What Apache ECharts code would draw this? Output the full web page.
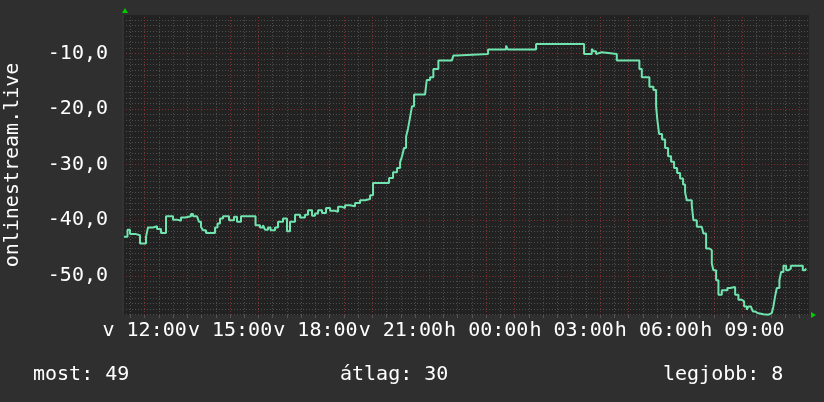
<!DOCTYPE html>
<html>
<head>
<meta charset="utf-8">
<script src="https://cdn.jsdelivr.net/npm/echarts@6/dist/echarts.min.js"></script>
<style>
  html, body { margin: 0; padding: 0; background: #2f2f2f; }
  #chart { width: 824px; height: 402px; }
</style>
</head>
<body>
<div id="chart"></div>
<script>
// hours since Sunday 00:00 (24+ = Monday)
const times = [
  11.275, 11.398, 11.486, 11.697, 11.837, 12.048, 12.118, 12.294, 12.435, 12.575,
  12.751, 12.997, 13.137, 13.277, 13.418, 13.629, 13.700, 13.840, 13.910, 13.981,
  14.051, 14.156, 14.473, 14.560, 14.648, 14.754, 14.965, 15.140, 15.246, 15.386,
  15.896, 16.054, 16.159, 16.229, 16.335, 16.423, 16.581, 16.686, 16.862, 17.002,
  17.108, 17.284, 17.460, 17.635, 17.740, 17.881, 17.986, 18.092, 18.232, 18.373,
  18.514, 18.689, 18.795, 18.935, 19.040, 19.216, 19.392, 19.568, 19.743, 19.919,
  20.024, 20.587, 20.727, 20.868, 20.973, 21.043, 21.113, 21.184, 21.254, 21.324,
  21.394, 21.465, 21.851, 21.911, 22.027, 22.143, 22.319, 22.790, 22.846, 22.965,
  24.065, 24.698, 24.757, 25.751, 27.438, 27.709, 27.765, 27.860, 27.906, 28.060,
  28.587, 29.381, 29.466, 29.733, 29.873, 29.968, 30.013, 30.073, 30.178, 30.284,
  30.389, 30.495, 30.600, 30.706, 30.811, 30.916, 30.987, 31.046, 31.222, 31.278,
  31.398, 31.574, 31.630, 31.725, 31.841, 31.925, 31.982, 32.077, 32.158, 32.277,
  32.474, 32.569, 32.745, 32.860, 32.980, 33.061, 33.155, 33.212, 33.296, 33.366,
  33.447, 33.528, 33.598, 33.738, 33.914, 34.033, 34.090, 34.149, 34.209, 34.300,
  34.360, 34.442, 34.536, 34.617, 34.701, 35.123, 35.204, 35.239
];
const values = [
  -43.0, -41.7, -42.5, -42.7, -44.2, -43.0, -41.3, -41.1, -41.6, -42.3,
  -39.3, -39.9, -40.1, -39.5, -39.3, -38.9, -39.3, -39.5, -40.3, -41.2,
  -41.8, -42.3, -41.3, -40.6, -39.7, -39.3, -40.0, -39.4, -40.3, -39.3,
  -40.9, -41.3, -40.9, -41.7, -41.3, -41.8, -41.3, -40.3, -39.7, -42.0,
  -40.3, -39.0, -39.5, -39.0, -38.2, -39.2, -38.8, -38.2, -38.7, -37.8,
  -38.3, -38.5, -37.6, -37.8, -37.3, -37.5, -36.9, -36.4, -36.2, -35.5,
  -33.3, -32.4, -31.4, -30.6, -29.6, -28.5, -27.0, -25.0, -23.5, -21.5,
  -19.5, -17.4, -17.1, -14.8, -14.3, -12.8, -11.3, -11.1, -10.4, -10.1,
  -9.3, -8.6, -9.3, -8.3, -10.1, -9.2, -9.6, -10.1, -9.8, -10.1,
  -11.3, -12.8, -14.3, -16.0, -16.6, -19.5, -22.0, -24.5, -25.5, -27.0,
  -28.5, -29.5, -30.6, -31.5, -32.5, -33.6, -35.0, -36.4, -37.3, -40.0,
  -41.2, -41.5, -42.4, -45.1, -45.4, -47.8, -49.0, -50.8, -53.4, -52.6,
  -52.2, -52.0, -53.4, -54.3, -54.6, -55.5, -56.1, -55.5, -55.8, -56.4,
  -56.7, -56.4, -56.9, -57.0, -56.7, -56.4, -55.5, -53.7, -52.2, -50.8,
  -49.3, -48.2, -49.0, -48.7, -48.2, -49.0, -48.7, -48.7
];
const labelHours = [12, 15, 18, 21, 24, 27, 30, 33];
const yLabels = [-50, -40, -30, -20, -10];
const summary = ['most: 49', 'átlag: 30', 'legjobb: 8'];
const yName = 'onlinestream.live';

const xMin = 11.24, xMax = 35.34;
const yMin = -57.05, yMax = -3.1;

const GRAY = '#4d4d4d';
const RED = '#7e2f2f';
const DOT = [1, 2];
const FONT = 'DejaVu Sans Mono';

// grid line positions: every half hour, every 1 unit
const halfHours = [];
for (let h = Math.ceil(xMin * 2) / 2; h <= xMax; h += 0.5) halfHours.push(h);
const minorY = [];
for (let v = Math.ceil(yMin); v <= yMax; v += 1) minorY.push(v);

function pad(n) { return (n < 10 ? '0' : '') + n; }

const chart = echarts.init(document.getElementById('chart'));
chart.setOption({
  backgroundColor: '#2f2f2f',
  animation: false,
  grid: {
    left: 123, right: 15, top: 15, bottom: 87,
    containLabel: false, outerBoundsMode: 'none',
    show: true, backgroundColor: '#222222', borderWidth: 0
  },
  xAxis: {
    type: 'value', min: xMin, max: xMax,
    axisLine: { show: false },
    axisTick: { show: true, customValues: halfHours, length: 3, lineStyle: { color: '#555' } },
    axisLabel: {
      customValues: labelHours,
      color: '#ffffff', fontFamily: FONT, fontSize: 20, margin: 6,
      formatter: h => (h < 24 ? 'v ' : 'h ') + pad(h % 24) + ':00'
    },
    splitLine: { show: false }
  },
  yAxis: {
    type: 'value', min: yMin, max: yMax,
    name: yName, nameLocation: 'middle', nameRotate: 90, nameGap: 100,
    nameTextStyle: { color: '#ffffff', fontFamily: FONT, fontSize: 20 },
    axisLine: { show: true, lineStyle: { color: '#333333', width: 2 } },
    axisTick: { show: false, customValues: minorY },
    axisLabel: {
      customValues: yLabels,
      color: '#ffffff', fontFamily: FONT, fontSize: 20, margin: 15,
      formatter: v => v.toFixed(1).replace('.', ',')
    },
    splitLine: {
      show: true,
      lineStyle: { type: DOT, width: 1, color: minorY.map(v => v % 10 === 0 ? RED : GRAY) }
    }
  },
  series: [{
    // vertical grid lines
    type: 'line',
    data: [],
    z: 1,
    markLine: {
      silent: true,
      symbol: 'none',
      label: { show: false },
      animation: false,
      data: halfHours.map(h => ({
        xAxis: h,
        lineStyle: { type: DOT, width: 1, color: h % 1 === 0 ? RED : GRAY }
      }))
    }
  }, {
    type: 'line',
    step: 'end',
    showSymbol: false,
    clip: false,
    z: 5,
    data: times.map((t, i) => [t, values[i]]),
    lineStyle: { color: '#6fe4ae', width: 2 }
  }],
  graphic: [
    { type: 'polygon', shape: { points: [[122, 13], [128, 13], [125, 8]] }, style: { fill: '#00cc00' } },
    { type: 'polygon', shape: { points: [[811, 312], [811, 318], [816, 315]] }, style: { fill: '#00cc00' } },
    { type: 'text', left: 33, top: 365, style: { text: summary[0], fill: '#fff', font: '20px "DejaVu Sans Mono"' } },
    { type: 'text', left: 340, top: 365, style: { text: summary[1], fill: '#fff', font: '20px "DejaVu Sans Mono"' } },
    { type: 'text', left: 663, top: 365, style: { text: summary[2], fill: '#fff', font: '20px "DejaVu Sans Mono"' } }
  ]
});
</script>
</body>
</html>
